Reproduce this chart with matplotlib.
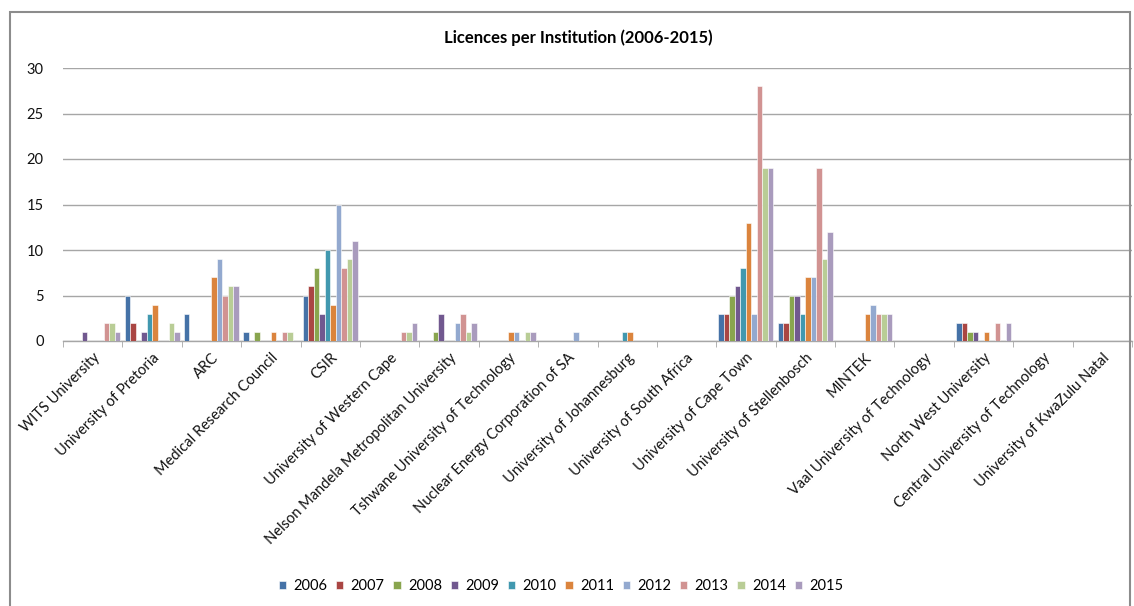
import numpy as np
import matplotlib
matplotlib.use("Agg")
import matplotlib.pyplot as plt
from matplotlib.patches import Rectangle

plt.rcParams['font.family'] = ['Lato', 'DejaVu Sans']

institutions = [
    "WITS University", "University of Pretoria", "ARC", "Medical Research Council",
    "CSIR", "University of Western Cape", "Nelson Mandela Metropolitan University",
    "Tshwane University of Technology", "Nuclear Energy Corporation of SA",
    "University of Johannesburg", "University of South Africa",
    "University of Cape Town", "University of Stellenbosch", "MINTEK",
    "Vaal University of Technology", "North West University",
    "Central University of Technology", "University of KwaZulu Natal",
]
years = ["2006", "2007", "2008", "2009", "2010", "2011", "2012", "2013", "2014", "2015"]

# licences per institution, one list per year (order follows institutions)
y2006 = [0, 5, 3, 1, 5, 0, 0, 0, 0, 0, 0, 3, 2, 0, 0, 2, 0, 0]
y2007 = [0, 2, 0, 0, 6, 0, 0, 0, 0, 0, 0, 3, 2, 0, 0, 2, 0, 0]
y2008 = [0, 0, 0, 1, 8, 0, 1, 0, 0, 0, 0, 5, 5, 0, 0, 1, 0, 0]
y2009 = [1, 1, 0, 0, 3, 0, 3, 0, 0, 0, 0, 6, 5, 0, 0, 1, 0, 0]
y2010 = [0, 3, 0, 0, 10, 0, 0, 0, 0, 1, 0, 8, 3, 0, 0, 0, 0, 0]
y2011 = [0, 4, 7, 1, 4, 0, 0, 1, 0, 1, 0, 13, 7, 3, 0, 1, 0, 0]
y2012 = [0, 0, 9, 0, 15, 0, 2, 1, 1, 0, 0, 3, 7, 4, 0, 0, 0, 0]
y2013 = [2, 0, 5, 1, 8, 1, 3, 0, 0, 0, 0, 28, 19, 3, 0, 2, 0, 0]
y2014 = [2, 2, 6, 1, 9, 1, 1, 1, 0, 0, 0, 19, 9, 3, 0, 0, 0, 0]
y2015 = [1, 1, 6, 0, 11, 2, 2, 1, 0, 0, 0, 19, 12, 3, 0, 2, 0, 0]
series = [y2006, y2007, y2008, y2009, y2010, y2011, y2012, y2013, y2014, y2015]

colors = ['#4572A7', '#AA4643', '#89A54E', '#71588F', '#4198AF',
          '#DB843D', '#93A9CF', '#D19392', '#B9CD96', '#A99BBD']

fig = plt.figure(figsize=(11.34, 6.06), dpi=100)
ax = fig.add_axes([63/1134, 1 - 341/606, (1132 - 63)/1134, (341 - 68)/606])

x = np.arange(len(institutions))
w = 0.0926
for i, (yr, vals) in enumerate(zip(years, series)):
    ax.bar(x + (i - 4.5) * w, vals, width=w, color=colors[i],
           edgecolor='white', linewidth=0.4, label=yr, zorder=3)

ax.set_xlim(-0.5, len(institutions) - 0.5)
ax.set_ylim(0, 30)
ax.set_yticks(range(0, 31, 5))
ax.yaxis.grid(True, color='#A6A6A6', linewidth=1, zorder=0)
ax.tick_params(axis='y', length=0, pad=14, labelsize=10.5, labelcolor='#111111')

ax.set_xticks(x)
ax.set_xticklabels(institutions, rotation=45, ha='right', rotation_mode='anchor',
                   fontsize=10.5, color='#111111')
ax.tick_params(axis='x', which='major', length=0, pad=7)
ax.set_xticks(np.arange(-0.5, len(institutions)), minor=True)
ax.tick_params(axis='x', which='minor', length=4, color='#A6A6A6', direction='out')

for s in ['top', 'right', 'left']:
    ax.spines[s].set_visible(False)
ax.spines['bottom'].set_color('#A6A6A6')
ax.spines['bottom'].set_linewidth(1)

fig.text(578/1134, 1 - 38/606, "Licences per Institution (2006-2015)",
         ha='center', va='center', fontsize=12, fontweight='bold')

fig.legend(loc='center', bbox_to_anchor=(561/1134, 1 - 586/606), ncol=10,
           frameon=False, fontsize=10.5, handlelength=0.5, handleheight=0.5,
           handletextpad=0.5, columnspacing=0.6)

fig.patches.append(Rectangle((10/1134, -0.05), (1130 - 10)/1134, 1.05 - 12/606,
                             transform=fig.transFigure, fill=False,
                             edgecolor='#8C8C8C', linewidth=1.5))

fig.savefig("out.png", dpi=100)
